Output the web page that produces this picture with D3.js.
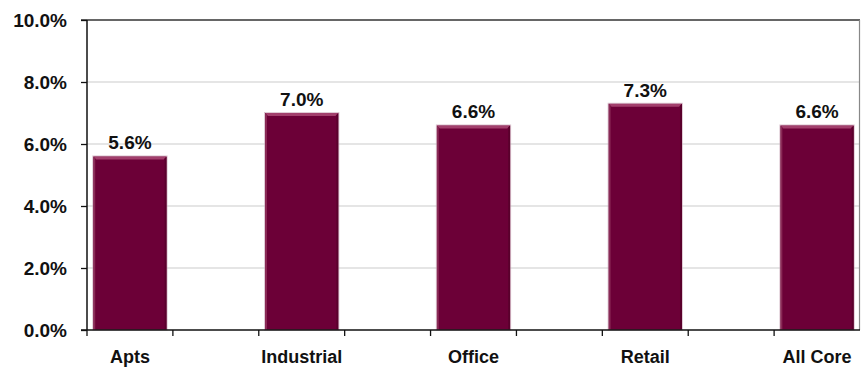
<!DOCTYPE html>
<html>
<head>
<meta charset="utf-8">
<script src="https://cdn.jsdelivr.net/npm/d3@7"></script>
<style>
  html, body { margin: 0; padding: 0; background: #fff; }
  svg { display: block; }
  text { font-family: "Liberation Sans", Arial, sans-serif; font-weight: bold; fill: #111; }
</style>
</head>
<body>
<svg id="chart" width="861" height="367"></svg>
<script>
// Property sectors and their values (%)
const categories = ["Apts", "Industrial", "Office", "Retail", "All Core"];
const values = [5.6, 7.0, 6.6, 7.3, 6.6];
const valueLabels = ["5.6%", "7.0%", "6.6%", "7.3%", "6.6%"];
const yTicks = [0, 2, 4, 6, 8, 10];
const yTickLabels = ["0.0%", "2.0%", "4.0%", "6.0%", "8.0%", "10.0%"];

// Each sector is followed by an empty slot, giving the wide spacing between bars
const slots = [];
categories.forEach((c, i) => {
  slots.push(c);
  if (i < categories.length - 1) slots.push("gap" + i);
});

const svg = d3.select("#chart");
const margin = { left: 87, right: 1, top: 20, bottom: 37 };
const W = 861, H = 367;

const x = d3.scaleBand().domain(slots).range([margin.left, W - margin.right]).paddingInner(0).paddingOuter(0);
const y = d3.scaleLinear().domain([0, 10]).range([H - margin.bottom, margin.top]);

// gridlines
svg.append("g").selectAll("line").data(yTicks.filter(t => t > 0 && t < 10)).join("line")
  .attr("x1", margin.left).attr("x2", W - margin.right)
  .attr("y1", d => y(d)).attr("y2", d => y(d))
  .attr("stroke", "#dcdcdc").attr("stroke-width", 1.5);

// top frame and right frame
svg.append("line").attr("x1", margin.left - 6).attr("x2", W - 1).attr("y1", y(10)).attr("y2", y(10))
  .attr("stroke", "#333").attr("stroke-width", 1.5);
svg.append("line").attr("x1", W - 1.5).attr("x2", W - 1.5).attr("y1", y(10)).attr("y2", y(0))
  .attr("stroke", "#888").attr("stroke-width", 1.2);

// bars with a slight bevel
const barW = x.bandwidth() * 0.855;
const bars = svg.append("g").selectAll("g").data(categories).join("g");
bars.each(function(c, i) {
  const g = d3.select(this);
  const x0 = x(c) + (x.bandwidth() - barW) / 2;
  const y0 = y(values[i]);
  const h = y(0) - y0;
  g.append("rect").attr("x", x0).attr("y", y0).attr("width", barW).attr("height", h)
    .attr("fill", "#6c0037");
  // top bevel
  g.append("polygon")
    .attr("points", [[x0, y0], [x0 + barW, y0], [x0 + barW - 3, y0 + 3], [x0 + 3, y0 + 3]].map(p => p.join(",")).join(" "))
    .attr("fill", "#a23f6c");
  // left bevel
  g.append("polygon")
    .attr("points", [[x0, y0], [x0 + 2, y0 + 2], [x0 + 2, y0 + h], [x0, y0 + h]].map(p => p.join(",")).join(" "))
    .attr("fill", "#8a2a56");
  // right bevel
  g.append("polygon")
    .attr("points", [[x0 + barW, y0], [x0 + barW - 2, y0 + 2], [x0 + barW - 2, y0 + h], [x0 + barW, y0 + h]].map(p => p.join(",")).join(" "))
    .attr("fill", "#5a002c");
  // outline
  g.append("rect").attr("x", x0 - 0.5).attr("y", y0 - 0.5).attr("width", barW + 1).attr("height", h + 0.5)
    .attr("fill", "none").attr("stroke", "#c9a5b6").attr("stroke-width", 0.8).attr("stroke-opacity", 0.7);
});

// value labels
svg.append("g").selectAll("text").data(categories).join("text")
  .attr("x", c => x(c) + x.bandwidth() / 2)
  .attr("y", (c, i) => y(values[i]) - 7)
  .attr("text-anchor", "middle")
  .attr("font-size", 19)
  .text((c, i) => valueLabels[i]);

// y axis
const yAxis = d3.axisLeft(y).tickValues(yTicks).tickFormat((d, i) => yTickLabels[i]).tickSize(6).tickPadding(14);
const gy = svg.append("g").attr("transform", `translate(${margin.left},0)`).call(yAxis);
gy.select(".domain").attr("stroke", "#111").attr("stroke-width", 1.5).attr("d", `M0,${y(10)}V${y(0)}`);
gy.selectAll(".tick line").attr("stroke", "#111").attr("stroke-width", 1.3);
gy.selectAll(".tick text").attr("font-size", 19).attr("font-family", "Liberation Sans, Arial, sans-serif")
  .attr("font-weight", "bold").attr("fill", "#111");

// x axis: baseline, boundary ticks, category labels
const gx = svg.append("g");
gx.append("line").attr("x1", margin.left - 6).attr("x2", W - 1).attr("y1", y(0)).attr("y2", y(0))
  .attr("stroke", "#111").attr("stroke-width", 1.5);
const bounds = slots.map(s => x(s)).concat([x(slots[slots.length - 1]) + x.bandwidth()]);
gx.selectAll("line.tk").data(bounds.slice(0, -1)).join("line").attr("class", "tk")
  .attr("x1", d => d).attr("x2", d => d).attr("y1", y(0)).attr("y2", y(0) + 6)
  .attr("stroke", "#111").attr("stroke-width", 1.3);
gx.selectAll("text").data(categories).join("text")
  .attr("x", c => x(c) + x.bandwidth() / 2)
  .attr("y", H - 4)
  .attr("text-anchor", "middle")
  .attr("font-size", 18)
  .text(c => c);
</script>
</body>
</html>
